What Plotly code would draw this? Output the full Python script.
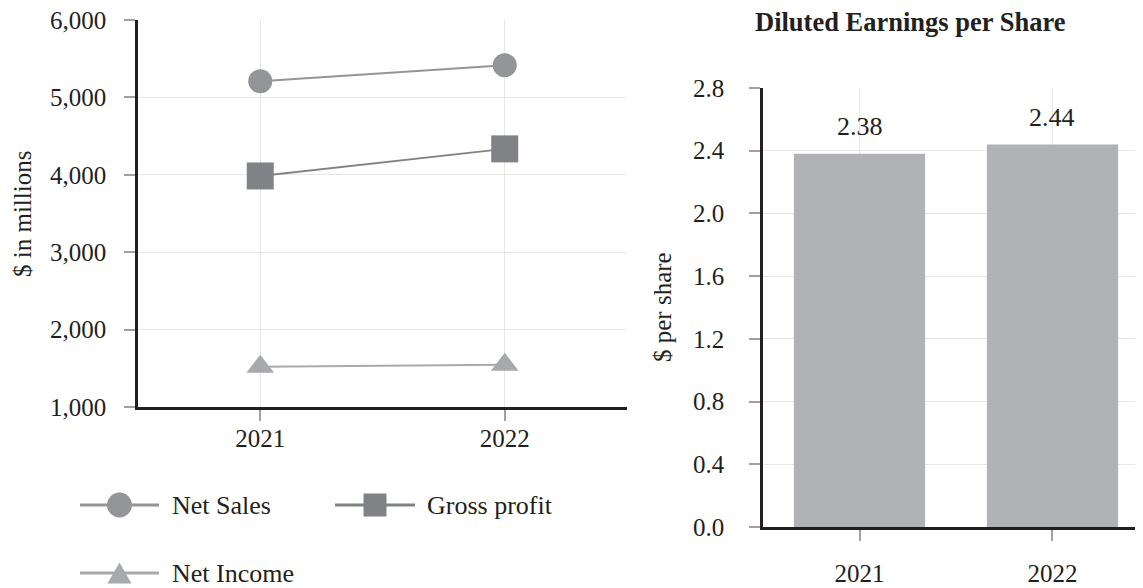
import plotly.graph_objects as go

# the page shows the figure 8px in from the top-left corner
OFF = 8
W, H = 1143 - OFF, 588 - OFF

years = ["2021", "2022"]
net_sales = [5210, 5415]
gross_profit = [3985, 4335]
net_income = [1520, 1545]
eps = [2.38, 2.44]
eps_labels = ["2.38", "2.44"]

FONT = "Liberation Serif, Times New Roman, serif"
TXT = "#231f20"
AX = "#231f20"
GRID = "#e6e6e7"
TICK = "#a0a0a0"

series = [
    ("Net Sales", net_sales, "circle", 24, "#939598", "#939598"),
    ("Gross profit", gross_profit, "square", 27, "#808285", "#808285"),
    ("Net Income", net_income, "triangle-up", 24, "#a7a9ac", "#a7a9ac"),
]


def px(x):
    return (x - OFF) / W


def py(y):
    return 1 - (y - OFF) / H


fig = go.Figure()

for name, vals, sym, size, mcol, lcol in series:
    fig.add_trace(go.Scatter(
        x=years, y=vals, name=name, mode="lines+markers",
        line=dict(color=lcol, width=2),
        marker=dict(symbol=sym, size=size, color=mcol, line=dict(width=0)),
        xaxis="x", yaxis="y", showlegend=False, cliponaxis=False,
    ))

fig.add_trace(go.Bar(
    x=years, y=eps, marker=dict(color="#b1b2b5", line=dict(width=0)),
    width=0.68, xaxis="x2", yaxis="y2", showlegend=False,
))

axis_common = dict(
    showline=True, linecolor=AX, linewidth=2.5, mirror=False,
    showgrid=True, gridcolor=GRID, gridwidth=1,
    ticks="outside", ticklen=11, tickcolor=TICK, tickwidth=1.5,
    tickfont=dict(family=FONT, size=25, color=TXT),
    zeroline=False, fixedrange=True, automargin=False,
    ticklabeloverflow="allow",
)

fig.update_layout(
    template="none",
    width=W, height=H,
    margin=dict(l=0, r=0, t=0, b=0, pad=0, autoexpand=False),
    paper_bgcolor="white", plot_bgcolor="white",
    font=dict(family=FONT, color=TXT),
    showlegend=False,
    xaxis=dict(domain=[px(138), px(627)], type="category", range=[-0.5, 1.5],
               anchor="y", ticklabelstandoff=-4, **axis_common),
    yaxis=dict(domain=[py(407), py(20)], range=[1000, 6000], dtick=1000,
               tickformat=",d", anchor="x", ticklabelstandoff=13, **axis_common),
    xaxis2=dict(domain=[px(763), 1.0], type="category", range=[-0.5, 1.469],
                anchor="y2", ticklabelstandoff=11, **axis_common),
    yaxis2=dict(domain=[py(527), py(88)], range=[0, 2.8], dtick=0.4,
                tickformat=".1f", anchor="x2", ticklabelstandoff=20, **axis_common),
)

annotations = [
    dict(text="$ in millions", textangle=-90, x=px(23), y=py(214), xref="paper", yref="paper",
         xanchor="center", yanchor="middle",
         showarrow=False, font=dict(family=FONT, size=25, color=TXT)),
    dict(text="$ per share", textangle=-90, x=px(662), y=py(307), xref="paper", yref="paper",
         xanchor="center", yanchor="middle",
         showarrow=False, font=dict(family=FONT, size=25, color=TXT)),
    dict(text="<b>Diluted Earnings per Share</b>", x=px(910), y=py(22), xref="paper", yref="paper",
         xanchor="center", yanchor="middle",
         showarrow=False, font=dict(family=FONT, size=26.5, color=TXT)),
]
for i, (v, lab) in enumerate(zip(eps, eps_labels)):
    annotations.append(dict(text=lab, x=i, y=v, xref="x2", yref="y2", showarrow=False,
                            xanchor="center", yanchor="middle", yshift=27,
                            font=dict(family=FONT, size=26, color=TXT)))

# custom legend (keys drawn as shapes, labels as text)
shapes = []
legend_items = [
    (series[0], 80, 159, 505, 170),
    (series[1], 335, 415, 505, 425),
    (series[2], 80, 159, 573, 170),
]
for (name, _, sym, _, mcol, lcol), x0, x1, yc, tx in legend_items:
    shapes.append(dict(type="line", xref="paper", yref="paper", x0=px(x0), x1=px(x1),
                       y0=py(yc), y1=py(yc), line=dict(color=lcol, width=3)))
    cx = (x0 + x1) / 2
    if sym == "circle":
        r = 12.5
        shapes.append(dict(type="circle", xref="paper", yref="paper", x0=px(cx - r), x1=px(cx + r),
                           y0=py(yc + r), y1=py(yc - r), fillcolor=mcol, line=dict(width=0)))
    elif sym == "square":
        r = 11.5
        shapes.append(dict(type="rect", xref="paper", yref="paper", x0=px(cx - r), x1=px(cx + r),
                           y0=py(yc + r), y1=py(yc - r), fillcolor=mcol, line=dict(width=0)))
    else:
        hw, h = 12, 21
        path = "M {},{} L {},{} L {},{} Z".format(
            px(cx - hw), py(yc + h / 2), px(cx + hw), py(yc + h / 2), px(cx), py(yc - h / 2))
        shapes.append(dict(type="path", xref="paper", yref="paper", path=path,
                           fillcolor=mcol, line=dict(width=0)))
    annotations.append(dict(text=name, x=px(tx), y=py(yc), xref="paper", yref="paper",
                            xanchor="left", yanchor="middle", showarrow=False,
                            font=dict(family=FONT, size=26, color=TXT)))

fig.update_layout(annotations=annotations, shapes=shapes)

fig.write_html("out.html")
